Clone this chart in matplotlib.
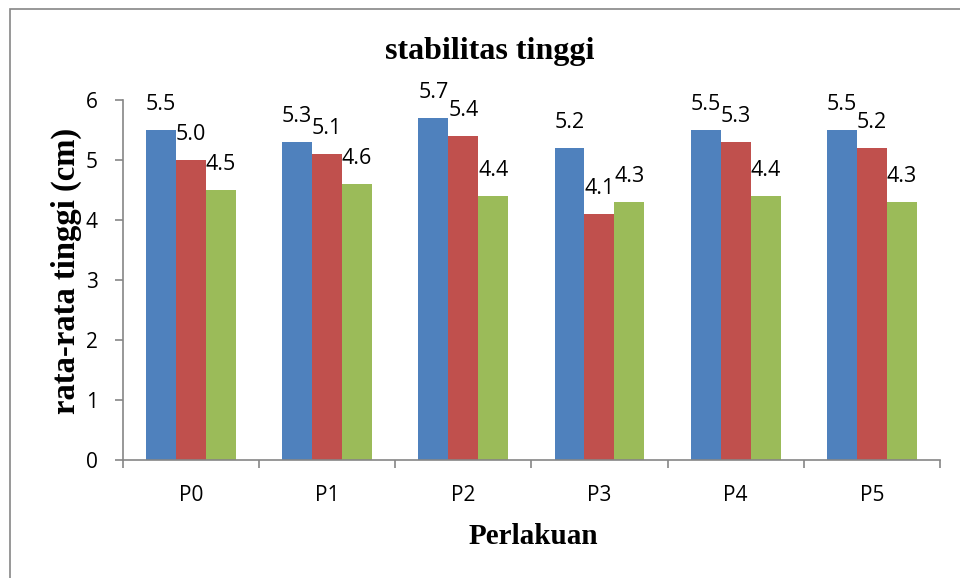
import matplotlib.pyplot as plt
import numpy as np
from matplotlib.patches import Rectangle

# mean plant height per treatment, three observations each
perlakuan = ['P0', 'P1', 'P2', 'P3', 'P4', 'P5']
seri_1 = [5.5, 5.3, 5.7, 5.2, 5.5, 5.5]
seri_2 = [5.0, 5.1, 5.4, 4.1, 5.3, 5.2]
seri_3 = [4.5, 4.6, 4.4, 4.3, 4.4, 4.3]

COLORS = ['#4F81BD', '#C0504D', '#9BBB59']
AXIS_GRAY = '#868686'
LABEL_FONT = 'Open Sans'
SERIF = 'Liberation Serif'

fig = plt.figure(figsize=(9.6, 5.78), dpi=100)
ax = fig.add_axes([0.128, 0.204, 0.851, 0.623])

# chart border
fig.patches.append(Rectangle((10 / 960, -0.1), 1.2, 1 - 9 / 578 + 0.1,
                             transform=fig.transFigure, fill=False,
                             edgecolor=AXIS_GRAY, linewidth=1.2))

x = np.arange(len(perlakuan))
width = 0.22
for k, (vals, c) in enumerate(zip([seri_1, seri_2, seri_3], COLORS)):
    pos = x + (k - 1) * width
    ax.bar(pos, vals, width, color=c, edgecolor='none')
    for px, v in zip(pos, vals):
        ax.annotate('{:.1f}'.format(v), (px, v), xytext=(0, 14.4),
                    textcoords='offset points', ha='center', va='baseline',
                    fontsize=15.5, family=LABEL_FONT)

ax.set_xlim(-0.5, len(perlakuan) - 0.5)
ax.set_ylim(0, 6)
ax.set_yticks(range(0, 7))
ax.set_yticklabels([str(i) for i in range(0, 7)], fontsize=15, family=LABEL_FONT)

# category labels centred, tick marks on the boundaries
ax.set_xticks(x)
ax.set_xticklabels(perlakuan, fontsize=15, family=LABEL_FONT)
ax.tick_params(axis='x', length=0, pad=18)
ax.set_xticks(np.arange(-0.5, len(perlakuan)), minor=True)
ax.tick_params(axis='x', which='minor', length=6, color=AXIS_GRAY, width=1.2)
ax.tick_params(axis='y', length=6, color=AXIS_GRAY, width=1.2, pad=12)

for s in ['top', 'right']:
    ax.spines[s].set_visible(False)
for s in ['left', 'bottom']:
    ax.spines[s].set_color(AXIS_GRAY)
    ax.spines[s].set_linewidth(1.2)

fig.text(490 / 960, 1 - 51 / 578, 'stabilitas tinggi', ha='center', va='center',
         fontsize=23, fontweight='bold', family=SERIF)
fig.text(66 / 960, 1 - 271 / 578, 'rata-rata tinggi (cm)', ha='center', va='center',
         rotation=90, fontsize=23.5, fontweight='bold', family=SERIF)
fig.text(533 / 960, 1 - 537 / 578, 'Perlakuan', ha='center', va='center',
         fontsize=21, fontweight='bold', family=SERIF)

fig.savefig('out.png', dpi=100)
